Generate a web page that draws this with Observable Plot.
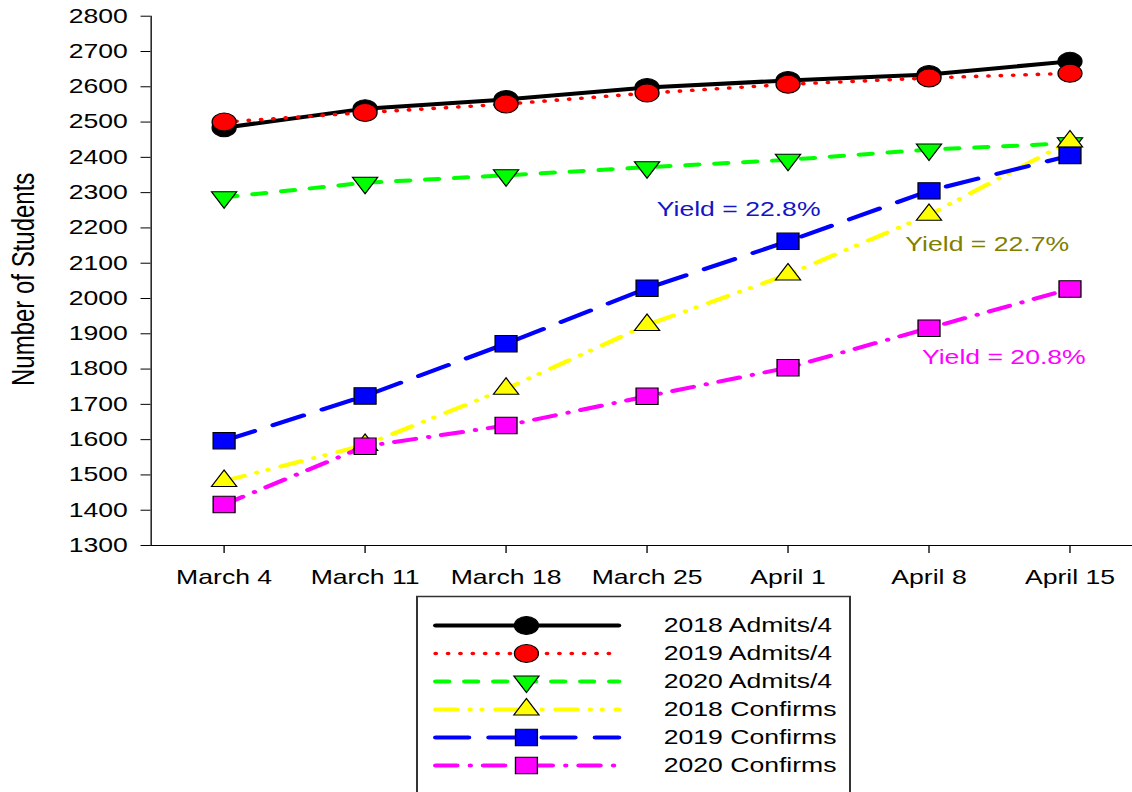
<!DOCTYPE html>
<html><head><meta charset="utf-8">
<script src="https://cdn.jsdelivr.net/npm/d3@7"></script>
<script src="https://cdn.jsdelivr.net/npm/@observablehq/plot@0.6"></script>
<style>
html,body{margin:0;padding:0;background:#fff;overflow:hidden;width:1132px;height:792px;}
#wrap{position:relative;width:1132px;height:792px;overflow:hidden;}
#legend{position:absolute;left:415px;top:595px;}
</style></head>
<body><div id="wrap"><div id="chart"></div><div id="legend"></div></div>
<script>
// ---- data ----
const dates = ["March 4", "March 11", "March 18", "March 25", "April 1", "April 8", "April 15"];
const admits2018 = [2484, 2538, 2564, 2598, 2618, 2635, 2672];
const admits2019 = [2500, 2527, 2551, 2582, 2607, 2625, 2638];
const admits2020 = [2287, 2328, 2349, 2372, 2393, 2422, 2440];
const confirms2018 = [1483, 1585, 1744, 1925, 2068, 2237, 2445];
const confirms2019 = [1597, 1724, 1872, 2029, 2162, 2305, 2405];
const confirms2020 = [1416, 1581, 1640, 1723, 1804, 1916, 2027];
const seriesNames = ["2018 Admits/4", "2019 Admits/4", "2020 Admits/4", "2018 Confirms", "2019 Confirms", "2020 Confirms"];
const yTicks = [1300, 1400, 1500, 1600, 1700, 1800, 1900, 2000, 2100, 2200, 2300, 2400, 2500, 2600, 2700, 2800];
const annLabels = ["Yield = 22.8%", "Yield = 22.7%", "Yield = 20.8%"];
const annDates = ["March 25", "April 8", "April 8"];
const annValues = [2235, 2134, 1813];

// ---- build table ----
const seriesValues = [admits2018, admits2019, admits2020, confirms2018, confirms2019, confirms2020];
const table = seriesNames.flatMap((name, k) => dates.map((date, i) => ({series: name, date, value: seriesValues[k][i]})));
const annotations = annLabels.map((label, i) => ({label, date: annDates[i], value: annValues[i]}));

// ---- styles ----
const S = 1.33; // horizontal stretch of the original picture
const triangleDown = {
  draw(ctx, size) {
    const y = -Math.sqrt(size / (Math.sqrt(3) * 3));
    ctx.moveTo(0, -y * 2);
    ctx.lineTo(-Math.sqrt(3) * y, y);
    ctx.lineTo(Math.sqrt(3) * y, y);
    ctx.closePath();
  }
};
const styles = [
  {stroke: "#000000", fill: "#000000", dash: null, sw: 4, symbol: "circle", r: 9},
  {stroke: "#ff0000", fill: "#ff0000", dash: "0.1 9.2", sw: 3.6, symbol: "circle", r: 9},
  {stroke: "#00ff00", fill: "#00ff00", dash: "9.8 12", sw: 4, symbol: triangleDown, r: 7.05},
  {stroke: "#ffff00", fill: "#ffff00", dash: "16 9.9 0.1 8.8 0.1 10.3", sw: 4, symbol: "triangle", r: 7.05},
  {stroke: "#0000ff", fill: "#0000ff", dash: "24.8 15.2", sw: 4, symbol: "square", r: 9.3},
  {stroke: "#ff00ff", fill: "#ff00ff", dash: "16 10 0.1 9.8", sw: 4, symbol: "square", r: 9.3}
];
const font = "'Liberation Sans', Arial, Helvetica, sans-serif";

function stretch(svg, w, h) {
  svg.setAttribute("width", w);
  svg.setAttribute("height", h);
  svg.setAttribute("preserveAspectRatio", "none");
  svg.style.width = w + "px";
  svg.style.height = h + "px";
  svg.style.maxWidth = "none";
  svg.style.display = "block";
}

// ---- main chart ----
const seriesMarks = [];
seriesNames.forEach((name, k) => {
  const st = styles[k];
  const rows = table.filter(d => d.series === name);
  seriesMarks.push(Plot.line(rows, {x: "date", y: "value", stroke: st.stroke, strokeWidth: st.sw,
    strokeDasharray: st.dash, strokeLinecap: "round", strokeLinejoin: "round"}));
  seriesMarks.push(Plot.dot(rows, {x: "date", y: "value", symbol: st.symbol, r: st.r,
    fill: st.fill, stroke: "#000000", strokeWidth: 1}));
});

const annColors = ["#1414c8", "#808000", "#ff00ff"];
const annDx = [7.3, -17.8, -5.3];
const annMarks = annotations.map((a, i) => Plot.text([a], {x: "date", y: "value", text: "label",
  fill: annColors[i], textAnchor: "start", lineAnchor: "bottom", dx: annDx[i], fontSize: 20}));

const W = 1132 / S;
const chart = Plot.plot({
  width: W, height: 792,
  marginLeft: 150.5 / S, marginRight: 0, marginTop: 15.7, marginBottom: 247,
  style: {fontFamily: font, fontSize: "20px", background: "white", color: "black"},
  x: {type: "point", domain: dates, range: [221 / S, 1071.7 / S], padding: 0,
      tickSize: 8, tickPadding: 16, label: null, line: true},
  y: {domain: [1300, 2800], range: [545, 15.7], ticks: yTicks, tickFormat: d3.format("d"),
      tickSize: 7.5, tickPadding: 10, label: null, line: true},
  marks: [
    ...seriesMarks,
    ...annMarks,
    Plot.text(["Number of Students"], {text: d => d, frameAnchor: "left", rotate: -90,
      textAnchor: "middle", dx: 25 - 150.5 / S, dy: -1.5, lineAnchor: "bottom", fontSize: 24, fill: "black"})
  ]
});
stretch(chart, 1132, 792);
document.getElementById("chart").appendChild(chart);

// ---- legend ----
const LW = (849 - 416) / S + 2;
const legendLines = seriesNames.flatMap(name => [{name, x: 0}, {name, x: 1}]);
const legendMarks = [Plot.frame({stroke: "#333333", strokeWidth: 1.5})];
seriesNames.forEach((name, k) => {
  const st = styles[k];
  legendMarks.push(Plot.line(legendLines.filter(d => d.name === name), {x: "x", y: "name",
    stroke: st.stroke, strokeWidth: st.sw, strokeDasharray: st.dash, strokeLinecap: "round"}));
  legendMarks.push(Plot.dot([{name, x: 0.496}], {x: "x", y: "name", symbol: st.symbol, r: st.r,
    fill: st.fill, stroke: "#000000", strokeWidth: 1}));
});
legendMarks.push(Plot.text(seriesNames.map(name => ({name, x: 1.246})), {x: "x", y: "name", text: "name",
  textAnchor: "start", lineAnchor: "middle", fill: "black", fontSize: 20}));

const legend = Plot.plot({
  width: LW, height: 205,
  marginLeft: 1, marginRight: 1, marginTop: 1, marginBottom: 1,
  style: {fontFamily: font, fontSize: "20px", background: "white", color: "black"},
  x: {domain: [0, 1], range: [20 / S, 203 / S], axis: null},
  y: {type: "point", domain: seriesNames, range: [29.3, 170.7], padding: 0, axis: null},
  marks: legendMarks
});
stretch(legend, LW * S, 205);
document.getElementById("legend").appendChild(legend);
</script>
</body></html>
